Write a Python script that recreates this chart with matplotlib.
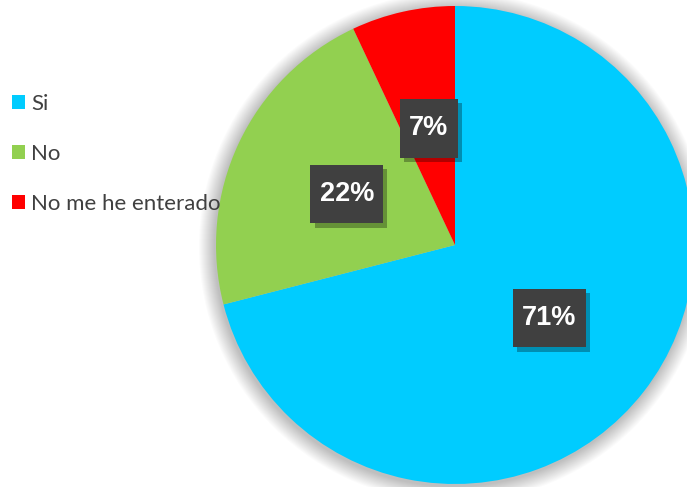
import matplotlib.pyplot as plt
import matplotlib.patheffects as pe
from matplotlib.patches import Circle
from matplotlib.path import Path

# === данные ===
categories = ["Si", "No", "No me he enterado"]
values = [71, 22, 7]
colors = ["#00CCFF", "#92D050", "#FF0000"]

fig = plt.figure(figsize=(6.87, 4.87), dpi=100)
ax = fig.add_axes([0, 0, 1, 1])
ax.axis("off")

cx, cy, r = 455, 242, 239

# мягкая тень вокруг круга
for i in range(16, 0, -1):
    ax.add_patch(Circle((cx - 1, cy - 2), r + i, color="#000000",
                        alpha=0.014, lw=0, zorder=0))

wedges, _, autotexts = ax.pie(
    values, colors=colors, startangle=90, counterclock=False,
    center=(cx, cy), radius=r, autopct="%1.0f%%", pctdistance=0.5,
    wedgeprops=dict(linewidth=0),
    textprops=dict(color="white", fontsize=19.5, fontweight="bold",
                   family="Liberation Sans"))
ax.set_xlim(0, 687)
ax.set_ylim(0, 487)


# прямоугольник подписи: по горизонтали уже, по вертикали выше
def label_box(x0, y0, width, height, mutation_size):
    px, py = 0.34 * mutation_size, 0.6 * mutation_size
    x0, y0 = x0 - px, y0 - py
    x1, y1 = x0 + width + 2 * px, y0 + height + 2 * py
    return Path([(x0, y0), (x1, y0), (x1, y1), (x0, y1), (x0, y0)],
                closed=True)


for t in autotexts:
    t.set_zorder(5)
    t.set_bbox(dict(boxstyle=label_box, facecolor="#404040",
                    edgecolor="none"))
    t.get_bbox_patch().set_path_effects([
        pe.SimplePatchShadow(offset=(3, -3), shadow_rgbFace="black",
                             alpha=0.3),
        pe.Normal()])

leg = ax.legend(wedges, categories, loc="upper left",
                bbox_to_anchor=(-8 / 687, 1 - 74 / 487),
                frameon=False, handlelength=0.6, handleheight=0.6,
                handletextpad=0.25, labelspacing=1.35,
                prop=dict(family="Lato", size=16))
for txt in leg.get_texts():
    txt.set_color("#404040")

fig.savefig("out.png", dpi=100)
